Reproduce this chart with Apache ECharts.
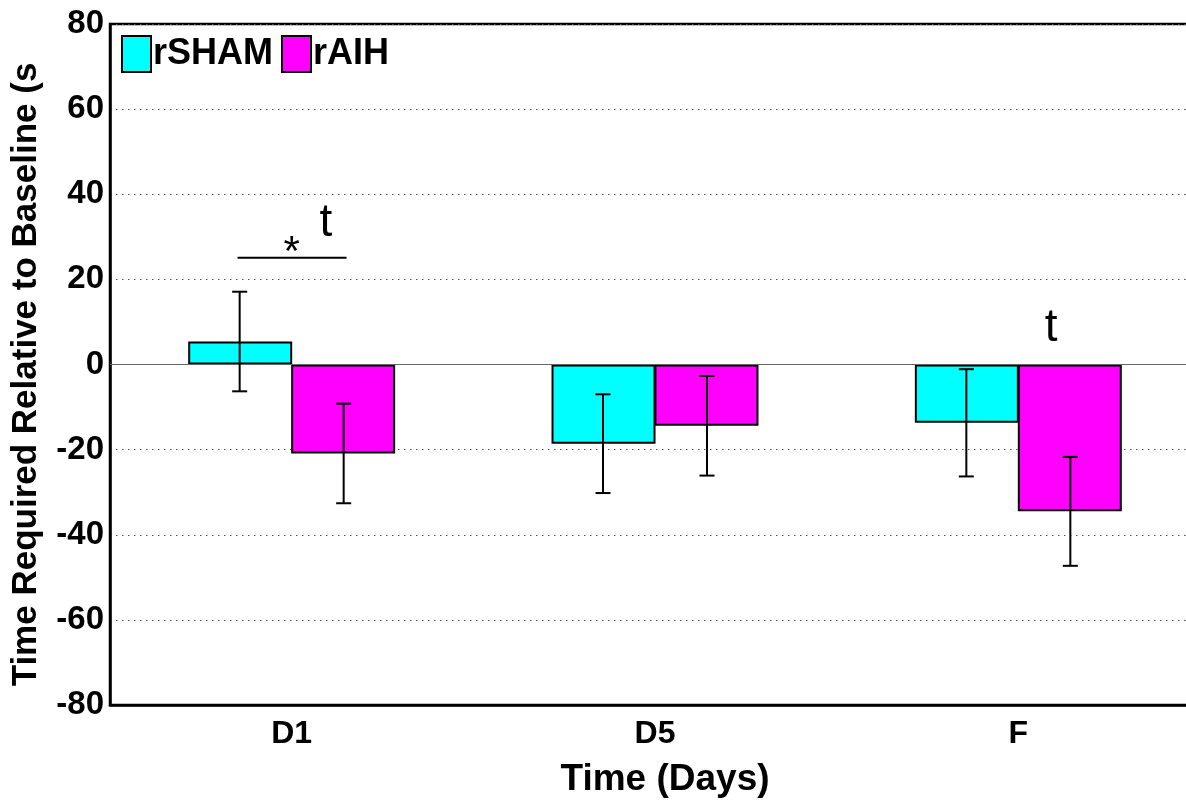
<!DOCTYPE html>
<html>
<head>
<meta charset="utf-8">
<script src="https://cdn.jsdelivr.net/npm/echarts@6/dist/echarts.min.js"></script>
<style>
html,body{margin:0;padding:0;background:#fff;}
#chart{width:1186px;height:803px;}
</style>
</head>
<body>
<div id="chart"></div>
<script>
const categories = ['D1', 'D5', 'F'];
const seriesNames = ['rSHAM', 'rAIH'];
const shamMeans = [5.4, -18.6, -13.7];
const shamErrors = [11.7, 11.6, 12.6];
const aihMeans = [-20.9, -14.4, -34.5];
const aihErrors = [11.7, 11.7, 12.8];
const yTicks = [-80, -60, -40, -20, 0, 20, 40, 60, 80];
// annotations: [categoryIndex, offset within band (fraction), value, text]
const annotationTexts = [[0, 0.0, 28.5, '*'], [0, 0.094, 33.2, 't'], [2, 0.09, 8.4, 't']];
// significance bracket: [categoryIndex, fromOffset, toOffset, value]
const brackets = [[0, -0.149, 0.151, 25.1]];

const FONT = '"Liberation Sans", Arial, sans-serif';
const BAR_W = 104;

function errorData(means, errs, idx) {
  return means.map((m, i) => [i, m - errs[i], m + errs[i], idx]);
}

const chart = echarts.init(document.getElementById('chart'));

function renderErr(params, api) {
  const cat = api.value(0);
  const lo = api.coord([cat, api.value(1)]);
  const hi = api.coord([cat, api.value(2)]);
  const sIdx = api.value(3);
  const x = lo[0] + (sIdx === 0 ? -BAR_W / 2 : BAR_W / 2);
  const cap = 7.5;
  const style = { stroke: '#000', lineWidth: 2 };
  return {
    type: 'group',
    children: [
      { type: 'line', shape: { x1: x, y1: lo[1], x2: x, y2: hi[1] }, style },
      { type: 'line', shape: { x1: x - cap, y1: lo[1], x2: x + cap, y2: lo[1] }, style },
      { type: 'line', shape: { x1: x - cap, y1: hi[1], x2: x + cap, y2: hi[1] }, style }
    ]
  };
}

chart.setOption({
  animation: false,
  backgroundColor: '#fff',
  grid: {
    left: 110, width: 1090, top: 24, bottom: 98,
    outerBoundsMode: 'none',
    containLabel: false,
    show: true, borderColor: '#000', borderWidth: 2.5, backgroundColor: 'transparent'
  },
  legend: {
    data: seriesNames,
    left: 116, top: 30,
    itemWidth: 29, itemHeight: 36, itemGap: 8,
    icon: 'rect',
    itemStyle: { borderColor: '#000', borderWidth: 2 },
    textStyle: { fontFamily: FONT, fontWeight: 'bold', fontSize: 36, color: '#000', padding: [0, 0, 0, -3] }
  },
  xAxis: {
    type: 'category',
    data: categories,
    name: 'Time (Days)',
    nameLocation: 'middle',
    nameGap: 56,
    nameTextStyle: { fontFamily: FONT, fontWeight: 'bold', fontSize: 37, color: '#000', padding: [0, 0, 0, 20] },
    axisLine: { show: true, onZero: false, lineStyle: { color: '#000', width: 2.5 } },
    axisTick: { show: false },
    axisLabel: { fontFamily: FONT, fontWeight: 'bold', fontSize: 32, color: '#000', margin: 13 },
    splitLine: { show: false }
  },
  yAxis: {
    type: 'value',
    min: yTicks[0], max: yTicks[yTicks.length - 1], interval: 20,
    name: 'Time Required Relative to Baseline (s',
    nameLocation: 'middle',
    nameGap: 66,
    nameTextStyle: { fontFamily: FONT, fontWeight: 'bold', fontSize: 35, color: '#000', padding: [0, 20, 0, 0] },
    axisLine: { show: true, onZero: false, lineStyle: { color: '#000', width: 2.5 } },
    axisTick: { show: false },
    axisLabel: { fontFamily: FONT, fontWeight: 'bold', fontSize: 33, color: '#000', margin: 6 },
    splitLine: { show: true, lineStyle: { color: '#555', width: 1, type: [1.5, 4.5] } }
  },
  series: [
    {
      name: seriesNames[0], type: 'bar', data: shamMeans,
      barWidth: BAR_W, barGap: '-1%',
      itemStyle: { color: '#00FFFF', borderColor: '#000', borderWidth: 2 },
      markLine: {
        silent: true, symbol: 'none', label: { show: false },
        lineStyle: { color: '#666', width: 1, type: 'solid' },
        data: [{ yAxis: 0 }]
      },
      z: 2
    },
    {
      name: seriesNames[1], type: 'bar', data: aihMeans,
      barWidth: BAR_W, barGap: '-1%',
      itemStyle: { color: '#FF00FF', borderColor: '#000', borderWidth: 2 },
      z: 2
    },
    {
      type: 'custom', renderItem: renderErr,
      data: errorData(shamMeans, shamErrors, 0).concat(errorData(aihMeans, aihErrors, 1)),
      z: 5, silent: true
    },
    {
      type: 'custom',
      renderItem: function (params, api) {
        const c = api.coord([api.value(0), api.value(2)]);
        const bw = api.size([1, 0])[0];
        const txt = annotationTexts[params.dataIndex][3];
        const isStar = txt === '*';
        return {
          type: 'text',
          style: {
            x: c[0] + api.value(1) * bw, y: c[1] + (isStar ? 10 : 0),
            text: txt, align: 'center', verticalAlign: 'middle',
            fontFamily: FONT, fontSize: isStar ? 42 : 46, fill: '#000'
          }
        };
      },
      data: annotationTexts.map(a => [a[0], a[1], a[2]]),
      z: 6, silent: true
    },
    {
      type: 'custom',
      renderItem: function (params, api) {
        const c = api.coord([api.value(0), api.value(3)]);
        const bw = api.size([1, 0])[0];
        return {
          type: 'line',
          shape: { x1: c[0] + api.value(1) * bw, y1: c[1], x2: c[0] + api.value(2) * bw, y2: c[1] },
          style: { stroke: '#000', lineWidth: 2 }
        };
      },
      data: brackets,
      z: 6, silent: true
    }
  ]
});
</script>
</body>
</html>
